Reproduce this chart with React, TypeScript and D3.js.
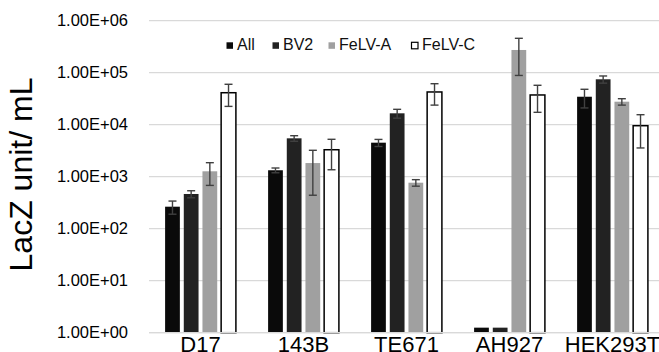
import React from 'react'
import * as d3 from 'd3'

const categories = ['D17', '143B', 'TE671', 'AH927', 'HEK293T']
const seriesNames = ['All', 'BV2', 'FeLV-A', 'FeLV-C']
const allValues = [265, 1330, 4510, 1.25, 34500]
const allErrors = [75, 140, 700, 0, 13500]
const bv2Values = [465, 5470, 16560, 1.25, 74700]
const bv2Errors = [72, 670, 3200, 0, 11800]
const felvAValues = [1270, 1830, 767, 273500, 27700]
const felvAErrors = [590, 1390, 110, 185000, 3900]
const felvCValues = [41200, 3300, 42600, 37300, 9570]
const felvCErrors = [18700, 1940, 18800, 20000, 6000]
const tickValues = [1, 10, 100, 1000, 10000, 100000, 1000000]
const tickLabels = ['1.00E+00', '1.00E+01', '1.00E+02', '1.00E+03', '1.00E+04', '1.00E+05', '1.00E+06']

const values = [allValues, bv2Values, felvAValues, felvCValues]
const errors = [allErrors, bv2Errors, felvAErrors, felvCErrors]
const fills = ['#0a0a0a', '#222222', '#a0a0a0', '#ffffff']
const legendX = [226, 272, 328, 411]

const width = 659
const height = 352
const font = 'Liberation Sans, Arial, sans-serif'

export default function App() {
  // band per cell line, inner band per series
  const x0 = d3.scaleBand().domain(categories).range([149, 664]).paddingInner(0).paddingOuter(0)
  const x1 = d3.scaleBand().domain(seriesNames).range([-35.4, 35.4]).paddingInner(0.21)
  const y = d3.scaleLog().domain([1, 1e6]).range([332.7, 20.7])

  return (
    <svg width={width} height={height} style={{ position: 'absolute', left: 0, top: 0, background: '#fff' }}
      fontFamily={font}>
      {/* gridlines */}
      {tickValues.map((t, i) => (
        <g key={t}>
          <line x1={149} x2={width} y1={y(t)} y2={y(t)} stroke="#d9d9d9" strokeWidth={1.2} />
          <text x={128} y={y(t)} dy="0.35em" textAnchor="end" fontSize={16.5} fill="#000">{tickLabels[i]}</text>
        </g>
      ))}

      {/* bars */}
      {seriesNames.map((s, si) => (
        <g key={s}>
          {categories.map((c, ci) => {
            const v = values[si][ci]
            const bx = x0(c)! + x0.bandwidth() / 2 + x1(s)!
            const bw = x1.bandwidth()
            return (
              <rect key={c} x={bx} y={y(v)} width={bw} height={y(1) - y(v)}
                fill={fills[si]} stroke={si === 3 ? '#000' : 'none'} strokeWidth={1.5} />
            )
          })}
        </g>
      ))}

      {/* error bars */}
      {seriesNames.map((s, si) => (
        <g key={s} stroke="#404040" strokeWidth={1.4}>
          {categories.map((c, ci) => {
            const e = errors[si][ci]
            if (!e) return null
            const v = values[si][ci]
            const cx = x0(c)! + x0.bandwidth() / 2 + x1(s)! + x1.bandwidth() / 2
            const hi = y(v + e)
            const lo = y(Math.max(v - e, 1))
            return (
              <g key={c}>
                <line x1={cx} x2={cx} y1={hi} y2={lo} />
                <line x1={cx - 4} x2={cx + 4} y1={hi} y2={hi} />
                <line x1={cx - 4} x2={cx + 4} y1={lo} y2={lo} />
              </g>
            )
          })}
        </g>
      ))}

      {/* axis line */}
      <line x1={149} x2={width} y1={y(1)} y2={y(1)} stroke="#d9d9d9" strokeWidth={1.2} />

      {/* x labels */}
      {categories.map(c => (
        <text key={c} x={x0(c)! + x0.bandwidth() / 2} y={351.5} textAnchor="middle" fontSize={22} fill="#000">{c}</text>
      ))}

      {/* y title */}
      <text transform="translate(32,174.5) rotate(-90)" textAnchor="middle" fontSize={32} fill="#000">LacZ unit/ mL</text>

      {/* legend */}
      {seriesNames.map((s, si) => (
        <g key={s} transform={`translate(${legendX[si]},0)`}>
          <rect x={0.5} y={42.3} width={6.5} height={6.5} fill={fills[si]} stroke={si === 3 ? '#000' : 'none'} strokeWidth={1.2} />
          <text x={11} y={49.5} fontSize={16} fill="#111">{s}</text>
        </g>
      ))}
    </svg>
  )
}
